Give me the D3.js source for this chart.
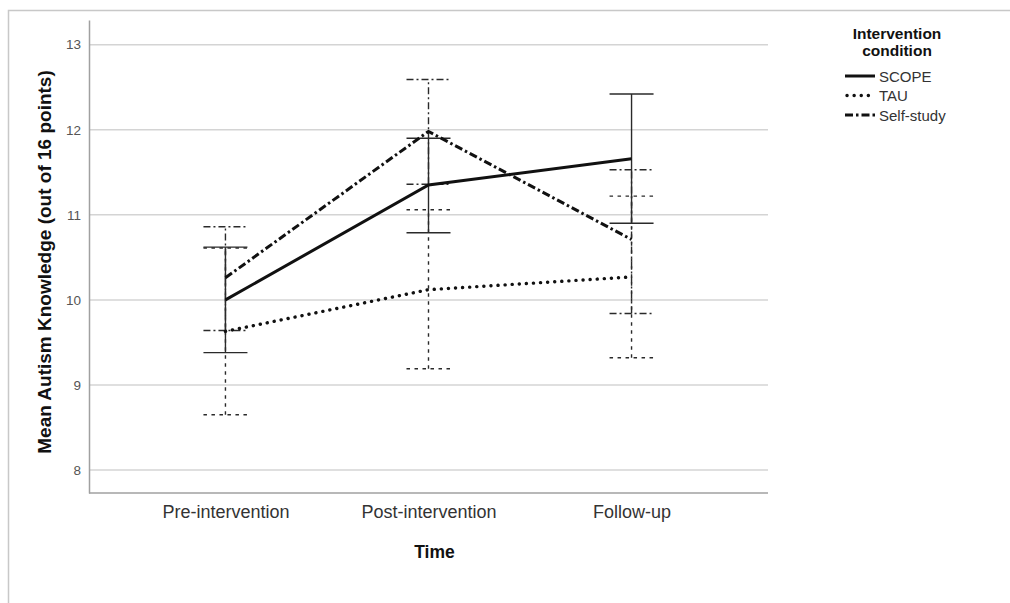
<!DOCTYPE html>
<html>
<head>
<meta charset="utf-8">
<script src="https://cdn.jsdelivr.net/npm/d3@7"></script>
<style>
  body { margin: 0; background: #fff; }
  svg { display: block; font-family: "Liberation Sans", Arial, sans-serif; }
</style>
</head>
<body>
<div class="container"></div>
<script>
// data
var timepoints = ['Pre-intervention', 'Post-intervention', 'Follow-up'];
var groups = ['SCOPE', 'TAU', 'Self-study'];
var scopeMean = [10.0, 11.35, 11.66];
var scopeLow = [9.38, 10.79, 10.9];
var scopeHigh = [10.62, 11.9, 12.42];
var tauMean = [9.63, 10.12, 10.27];
var tauLow = [8.65, 9.19, 9.32];
var tauHigh = [10.61, 11.06, 11.22];
var selfMean = [10.26, 11.98, 10.71];
var selfLow = [9.64, 11.36, 9.84];
var selfHigh = [10.86, 12.59, 11.53];
var yTicks = [8, 9, 10, 11, 12, 13];

var width = 1010, height = 603;
var plotLeft = 89, plotRight = 768, plotTop = 20, plotBottom = 493;

var series = [
  { name: groups[0], mean: scopeMean, low: scopeLow, high: scopeHigh,
    dash: null, barDash: null, width: 3, cap: 'butt' },
  { name: groups[1], mean: tauMean, low: tauLow, high: tauHigh,
    dash: '0.1,7', barDash: '3.5,4.5', width: 3.4, cap: 'round' },
  { name: groups[2], mean: selfMean, low: selfLow, high: selfHigh,
    dash: '8,3,2.5,3', barDash: '7,3,2,3', width: 3, cap: 'butt' }
];

var x = d3.scalePoint().domain(timepoints).range([plotLeft, plotRight]).padding(0.672);
var y = d3.scaleLinear().domain([7.73, 13.29]).range([plotBottom, plotTop]);

var svg = d3.select('.container').append('svg')
  .attr('width', width)
  .attr('height', height);

// outer frame (only top + left visible)
svg.append('path')
  .attr('d', 'M8.5,' + height + 'V10.5H' + width)
  .attr('fill', 'none')
  .attr('stroke', '#c8c8c8')
  .attr('stroke-width', 1.5);

// gridlines
svg.append('g').selectAll('line')
  .data(yTicks).enter()
  .append('line')
  .attr('x1', plotLeft).attr('x2', plotRight)
  .attr('y1', function(d) { return y(d); })
  .attr('y2', function(d) { return y(d); })
  .attr('stroke', '#d4d4d4')
  .attr('stroke-width', 1.5);

// y axis
var yAxis = svg.append('g')
  .attr('transform', 'translate(' + plotLeft + ',0)')
  .call(d3.axisLeft(y).tickValues(yTicks).tickFormat(d3.format('d')).tickSize(0).tickPadding(8));
yAxis.select('.domain').attr('stroke', '#a0a0a0').attr('stroke-width', 1.5);
yAxis.selectAll('text').attr('font-size', 13.5).attr('fill', '#555')
  .attr('font-family', '"Liberation Sans", Arial, sans-serif');

// x axis
var xAxis = svg.append('g')
  .attr('transform', 'translate(0,' + plotBottom + ')')
  .call(d3.axisBottom(x).tickSize(0).tickPadding(12));
xAxis.select('.domain').attr('stroke', '#a0a0a0').attr('stroke-width', 1.5)
  .attr('d', 'M' + plotLeft + ',0H' + plotRight);
xAxis.selectAll('text').attr('font-size', 18).attr('fill', '#333')
  .attr('font-family', '"Liberation Sans", Arial, sans-serif');

// axis titles
svg.append('text')
  .attr('transform', 'translate(51,' + 262 + ') rotate(-90)')
  .attr('text-anchor', 'middle')
  .attr('font-size', 19)
  .attr('font-weight', 'bold')
  .attr('fill', '#111')
  .text('Mean Autism Knowledge (out of 16 points)');

svg.append('text')
  .attr('x', (plotLeft + plotRight) / 2 + 6)
  .attr('y', 558)
  .attr('text-anchor', 'middle')
  .attr('font-size', 17.5)
  .attr('font-weight', 'bold')
  .attr('fill', '#111')
  .text('Time');

// error bars
var capHalf = 22;
series.forEach(function(s) {
  var g = svg.append('g').attr('class', 'errbar');
  timepoints.forEach(function(t, i) {
    var cx = x(t);
    var segs = [
      [cx, y(s.low[i]), cx, y(s.high[i])],
      [cx - capHalf, y(s.low[i]), cx + capHalf, y(s.low[i])],
      [cx - capHalf, y(s.high[i]), cx + capHalf, y(s.high[i])]
    ];
    segs.forEach(function(p) {
      g.append('line')
        .attr('x1', p[0]).attr('y1', p[1]).attr('x2', p[2]).attr('y2', p[3])
        .attr('stroke', '#2a2a2a')
        .attr('stroke-width', 1.4)
        .attr('stroke-dasharray', s.barDash);
    });
  });
});

// mean lines
var line = d3.line()
  .x(function(d, i) { return x(timepoints[i]); })
  .y(function(d) { return y(d); });

series.forEach(function(s) {
  svg.append('path')
    .datum(s.mean)
    .attr('d', line)
    .attr('fill', 'none')
    .attr('stroke', '#111')
    .attr('stroke-width', s.width)
    .attr('stroke-linecap', s.cap)
    .attr('stroke-dasharray', s.dash);
});

// legend
var legend = svg.append('g');
legend.append('text')
  .attr('x', 897).attr('y', 39)
  .attr('text-anchor', 'middle')
  .attr('font-size', 15.5).attr('font-weight', 'bold').attr('fill', '#111')
  .text('Intervention');
legend.append('text')
  .attr('x', 897).attr('y', 56)
  .attr('text-anchor', 'middle')
  .attr('font-size', 15.5).attr('font-weight', 'bold').attr('fill', '#111')
  .text('condition');

var item = legend.selectAll('.item')
  .data(series).enter()
  .append('g')
  .attr('transform', function(d, i) { return 'translate(845,' + (76 + i * 19.5) + ')'; });
item.append('line')
  .attr('x1', function(d) { return d.cap === 'round' ? 2 : 0; })
  .attr('x2', 30)
  .attr('stroke', '#111')
  .attr('stroke-width', function(d) { return d.width; })
  .attr('stroke-linecap', function(d) { return d.cap; })
  .attr('stroke-dasharray', function(d) { return d.dash; });
item.append('text')
  .attr('x', 34).attr('y', 5.5)
  .attr('font-size', 15).attr('fill', '#333')
  .text(function(d) { return d.name; });
</script>
</body>
</html>
